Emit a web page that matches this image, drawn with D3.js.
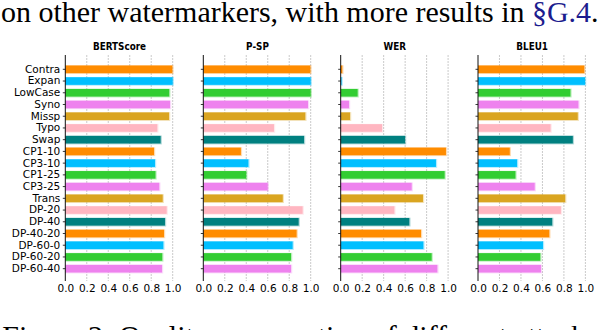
<!DOCTYPE html>
<html>
<head>
<meta charset="utf-8">
<script src="https://cdn.jsdelivr.net/npm/d3@7"></script>
<style>
  body { margin: 0; background: #fff; }
  svg { display: block; }
</style>
</head>
<body>
<svg id="chart" width="602" height="330"></svg>
<script>
// attacks, top to bottom
var attacks = ["Contra", "Expan", "LowCase", "Syno", "Missp", "Typo", "Swap",
  "CP1-10", "CP3-10", "CP1-25", "CP3-25", "Trans", "DP-20", "DP-40",
  "DP-40-20", "DP-60-0", "DP-60-20", "DP-60-40"];
var metrics = ["BERTScore", "P-SP", "WER", "BLEU1"];

var bertscore = [0.997, 1.0, 0.968, 0.975, 0.966, 0.857, 0.888, 0.826, 0.835, 0.84, 0.875, 0.907, 0.944, 0.928, 0.919, 0.913, 0.903, 0.90];
var psp = [0.997, 1.0, 1.0, 0.975, 0.95, 0.658, 0.938, 0.35, 0.42, 0.40, 0.60, 0.74, 0.925, 0.888, 0.869, 0.832, 0.817, 0.817];
var wer = [0.015, 0.008, 0.158, 0.077, 0.087, 0.385, 0.599, 0.98, 0.887, 0.968, 0.661, 0.766, 0.50, 0.639, 0.748, 0.77, 0.847, 0.90];
var bleu1 = [0.99, 0.997, 0.861, 0.935, 0.929, 0.676, 0.883, 0.296, 0.364, 0.349, 0.528, 0.812, 0.772, 0.691, 0.664, 0.605, 0.58, 0.586];
var seriesValues = [bertscore, psp, wer, bleu1];

var palette = ["#FF8C00", "#00BFFF", "#32CD32", "#EE82EE", "#DAA520", "#FFB6C1", "#008080"];
var xTicks = [0, 0.2, 0.4, 0.6, 0.8, 1.0];

var svg = d3.select("#chart");
var panelLeft = [65.3, 203.3, 340.7, 478];
var panelW = 107.4;
var axisTop = 55, axisBottom = 281;
var serif = "'Liberation Serif', 'Times New Roman', 'DejaVu Serif', serif";

var y = d3.scaleBand()
  .domain(attacks)
  .range([65.5, 272.5])
  .paddingInner(0.35)
  .paddingOuter(0.0);

var color = function(i) { return palette[i % palette.length]; };

metrics.forEach(function(m, k) {
  var x = d3.scaleLinear().domain([0, 1]).range([0, panelW]);
  var g = svg.append("g").attr("transform", "translate(" + panelLeft[k] + ",0)");

  // grid
  g.selectAll(".grid").data(xTicks.slice(1)).enter().append("line")
    .attr("x1", function(d) { return x(d); })
    .attr("x2", function(d) { return x(d); })
    .attr("y1", axisTop).attr("y2", axisBottom)
    .attr("stroke", "#c4c4c4")
    .attr("stroke-width", 0.9)
    .attr("stroke-dasharray", "2,1");

  var rows = seriesValues[k].map(function(v, i) { return {name: attacks[i], value: v, i: i}; });

  // soft halo behind bars
  g.selectAll(".halo").data(rows).enter().append("rect")
    .attr("x", 0)
    .attr("y", function(d) { return y(d.name) - 0.3; })
    .attr("width", function(d) { return x(d.value) + 1.2; })
    .attr("height", y.bandwidth() + 1.2)
    .attr("fill", function(d) { return color(d.i); })
    .attr("opacity", 0.3);

  g.selectAll(".bar").data(rows).enter().append("rect")
    .attr("x", 0)
    .attr("y", function(d) { return y(d.name); })
    .attr("width", function(d) { return x(d.value); })
    .attr("height", y.bandwidth())
    .attr("fill", function(d) { return color(d.i); });

  // y axis
  var yAxis = d3.axisLeft(y).tickSize(2.5).tickPadding(2.5);
  if (k > 0) yAxis.tickFormat("");
  var ya = g.append("g").call(yAxis);
  ya.select(".domain").remove();
  ya.selectAll(".tick line").attr("stroke", "#222").attr("stroke-width", 0.9);
  ya.selectAll("text")
    .attr("fill", "#000")
    .style("font-family", "'DejaVu Sans', sans-serif")
    .style("font-size", "10.5px");
  g.append("line")
    .attr("x1", 0).attr("x2", 0)
    .attr("y1", axisTop).attr("y2", axisBottom)
    .attr("stroke", "#111").attr("stroke-width", 1);

  // x axis labels
  var xa = g.append("g").attr("transform", "translate(0," + axisBottom + ")")
    .call(d3.axisBottom(x).tickValues(xTicks).tickSize(0).tickPadding(4).tickFormat(d3.format(".1f")));
  xa.select(".domain").remove();
  xa.selectAll("text")
    .attr("fill", "#000")
    .style("font-family", "'DejaVu Sans', sans-serif")
    .style("font-size", "10.5px");

  // title
  g.append("text")
    .attr("x", x(0.5) + 0.5).attr("y", 50.2)
    .attr("text-anchor", "middle")
    .style("font-family", "'DejaVu Sans Condensed', 'DejaVu Sans', sans-serif")
    .style("font-weight", "bold")
    .style("font-size", "9.8px")
    .text(m);
});

// surrounding paper text
var lead = svg.append("text")
  .attr("x", 1).attr("y", 22)
  .style("font-family", serif)
  .style("font-size", "24px");
lead.append("tspan").text("on other watermarkers, with more results in ");
lead.append("tspan").attr("fill", "#1c1c8e").text("§G.4");
lead.append("tspan").text(".");
var w = lead.node().getComputedTextLength();
var fs = 24 * 598 / w;
lead.style("font-size", fs + "px");

svg.append("text")
  .attr("x", 300).attr("y", 326.7 + 0.66 * fs)
  .attr("text-anchor", "middle")
  .style("font-family", serif)
  .style("font-size", fs + "px")
  .text("Figure 2: Quality preservation of different attacks");
</script>
</body>
</html>
